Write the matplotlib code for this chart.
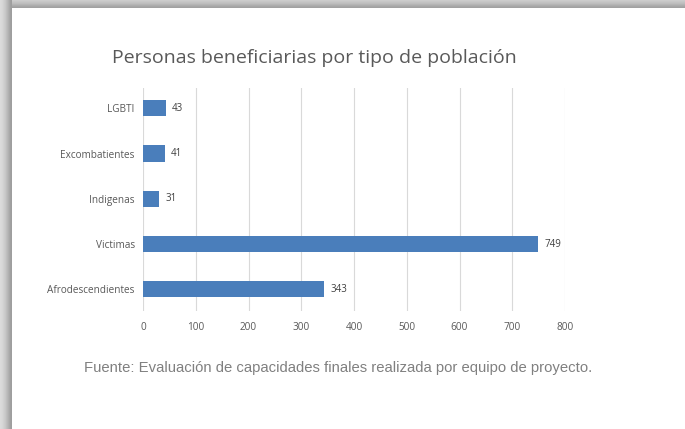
import matplotlib.pyplot as plt
from matplotlib.patches import Rectangle
import numpy as np

categorias = ['Afrodescendientes', 'Victimas', 'Indigenas', 'Excombatientes', 'LGBTI']
valores = [343, 749, 31, 41, 43]
xticks = [0, 100, 200, 300, 400, 500, 600, 700, 800]

fig = plt.figure(figsize=(6.85, 4.29), dpi=100)
fig.patch.set_facecolor('white')

# sombra del recuadro (izquierda y arriba)
W, H = 685, 429
grises_izq = [0.86, 0.85, 0.84, 0.82, 0.80, 0.78, 0.75, 0.72, 0.69, 0.66, 0.63, 0.62]
for i, g in enumerate(grises_izq):
    fig.patches.append(Rectangle((i / W, 0), 1 / W, 1, transform=fig.transFigure,
                                 facecolor=str(g), edgecolor='none', zorder=0))
grises_arr = [0.80, 0.78, 0.76, 0.74, 0.71, 0.68, 0.65, 0.63]
for j, g in enumerate(grises_arr):
    fig.patches.append(Rectangle((12 / W, 1 - (j + 1) / H), 1, 1 / H, transform=fig.transFigure,
                                 facecolor=str(g), edgecolor='none', zorder=0))

ax = fig.add_axes([143 / W, 1 - 311 / H, 422 / W, 223 / H])
ax.set_facecolor('none')
y = np.arange(len(categorias))
barras = ax.barh(y, valores, height=0.36, color='#4a7ebb', zorder=3)
for b, v in zip(barras, valores):
    ax.text(b.get_width() + 12, b.get_y() + b.get_height() / 2, str(v),
            va='center', ha='left', fontsize=7, color='#404040', family='Open Sans')

ax.set_xlim(0, 800)
ax.set_ylim(-0.48, 4.45)
ax.set_xticks(xticks)
ax.set_yticks(y)
ax.set_yticklabels(categorias, fontsize=7.2, color='#595959', family='Open Sans')
ax.set_xticklabels([str(t) for t in xticks], fontsize=7.2, color='#595959', family='Open Sans')
ax.tick_params(length=0, pad=6)
ax.tick_params(axis='x', pad=8)
ax.grid(axis='x', color='#d9d9d9', linewidth=0.8, zorder=0)
for s in ax.spines.values():
    s.set_visible(False)

fig.text(314 / W, 1 - 58 / H, 'Personas beneficiarias por tipo de población',
         ha='center', va='center', fontsize=14, color='#595959', family='Open Sans')
fig.text(338 / W, 1 - 368 / H, 'Fuente: Evaluación de capacidades finales realizada por equipo de proyecto.',
         ha='center', va='center', fontsize=10.7, color='#808080', family='Liberation Sans')

fig.savefig('out.png', dpi=100)
